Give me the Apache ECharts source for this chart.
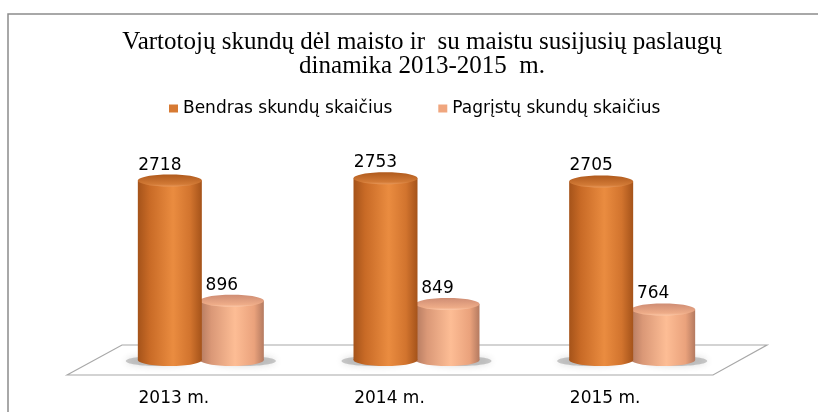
<!DOCTYPE html>
<html>
<head>
<meta charset="utf-8">
<script src="https://cdn.jsdelivr.net/npm/echarts@6/dist/echarts.min.js"></script>
<style>html,body{margin:0;background:#fff}#main{width:818px;height:412px}</style>
</head>
<body>
<div id="main"></div>
<script>
var metai = ['2013 m.', '2014 m.', '2015 m.'];
var bendras = [2718, 2753, 2705];
var pagristu = [896, 849, 764];
var pavadinimai = ['Bendras skundų skaičius', 'Pagrįstų skundų skaičius'];

var myChart = echarts.init(document.getElementById('main'));
var grad = echarts.graphic.LinearGradient;

var oranzine = {
    body: [{offset: 0, color: '#a5531a'}, {offset: 0.18, color: '#c86a26'}, {offset: 0.55, color: '#ea8c40'}, {offset: 0.82, color: '#d2742e'}, {offset: 1, color: '#a5531a'}],
    top: [{offset: 0, color: '#b05a1d'}, {offset: 0.8, color: '#d27a36'}, {offset: 1, color: '#e8985a'}]
};
var sviesi = {
    body: [{offset: 0, color: '#b47a60'}, {offset: 0.18, color: '#da9877'}, {offset: 0.55, color: '#fdbd95'}, {offset: 0.85, color: '#eaa27c'}, {offset: 1, color: '#b47a60'}],
    top: [{offset: 0, color: '#cf8d74'}, {offset: 0.8, color: '#eeac88'}, {offset: 1, color: '#fcc8a8'}]
};

// cilindras is custom series: body + two ellipses + label
function cilindras(spalvos, postumis, seselis) {
    return function (params, api) {
        var top = api.coord([api.value(0), api.value(1)]);
        var base = api.coord([api.value(0), 0]);
        var cx = top[0] + postumis, rx = 32, ry = 6;
        return {
            type: 'group',
            children: [
                {type: 'ellipse', shape: {cx: cx + seselis, cy: base[1] + 1, rx: rx, ry: 5},
                    style: {fill: 'rgba(110,110,110,0.35)', shadowBlur: 7, shadowColor: 'rgba(60,60,60,0.5)'}},
                {type: 'rect', shape: {x: cx - rx, y: top[1], width: rx * 2, height: base[1] - top[1]},
                    style: {fill: new grad(0, 0, 1, 0, spalvos.body)}},
                {type: 'ellipse', shape: {cx: cx, cy: base[1], rx: rx, ry: ry},
                    style: {fill: new grad(0, 0, 1, 0, spalvos.body)}},
                {type: 'ellipse', shape: {cx: cx, cy: top[1], rx: rx, ry: ry},
                    style: {fill: new grad(0, 0, 0, 1, spalvos.top)}},
                {type: 'text', x: cx - 10, y: top[1] - ry - 1,
                    style: {text: String(api.value(1)), align: 'center', verticalAlign: 'bottom',
                        fontSize: 17, fontFamily: 'DejaVu Sans', fill: '#000'}}
            ]
        };
    };
}

var option = {
    backgroundColor: '#fff',
    title: {
        text: 'Vartotojų skundų dėl maisto ir  su maistu susijusių paslaugų\ndinamika 2013-2015  m.',
        left: 417,
        textAlign: 'center',
        top: 25,
        textStyle: {fontFamily: 'Liberation Serif', fontSize: 25, fontWeight: 'normal', color: '#000', lineHeight: 24}
    },
    legend: {
        data: pavadinimai,
        left: 164,
        top: 95,
        icon: 'rect',
        itemWidth: 9,
        itemHeight: 8,
        itemGap: 46,
        textStyle: {fontFamily: 'DejaVu Sans', fontSize: 17, color: '#000'}
    },
    grid: {left: 93, right: 78, top: 162, bottom: 52},
    xAxis: {
        type: 'category',
        data: metai,
        axisLine: {show: false},
        axisTick: {show: false},
        axisLabel: {margin: 30, padding: [0, 54, 0, 0], fontSize: 17, fontFamily: 'DejaVu Sans', color: '#000'}
    },
    yAxis: {type: 'value', min: 0, max: 3000, show: false},
    graphic: [
        {type: 'rect', z: 0, shape: {x: 8, y: 14, width: 900, height: 500}, style: {fill: '#fff', stroke: '#8c8c8c', lineWidth: 1.5}},
        {type: 'polygon', z: 1, shape: {points: [[67, 375], [122, 345], [767, 345], [713, 375]]}, style: {fill: '#fff', stroke: '#a8a8a8', lineWidth: 1.2}}
    ],
    series: [
        {
            name: pavadinimai[0], type: 'custom', z: 4, clip: false,
            itemStyle: {color: '#d77a33'},
            renderItem: cilindras(oranzine, -31, -12),
            data: bendras.map(function (v, i) { return [i, v]; })
        },
        {
            name: pavadinimai[1], type: 'custom', z: 3, clip: false,
            itemStyle: {color: '#f0a67e'},
            renderItem: cilindras(sviesi, 31, 12),
            data: pagristu.map(function (v, i) { return [i, v]; })
        }
    ]
};
myChart.setOption(option);
</script>
</body>
</html>
